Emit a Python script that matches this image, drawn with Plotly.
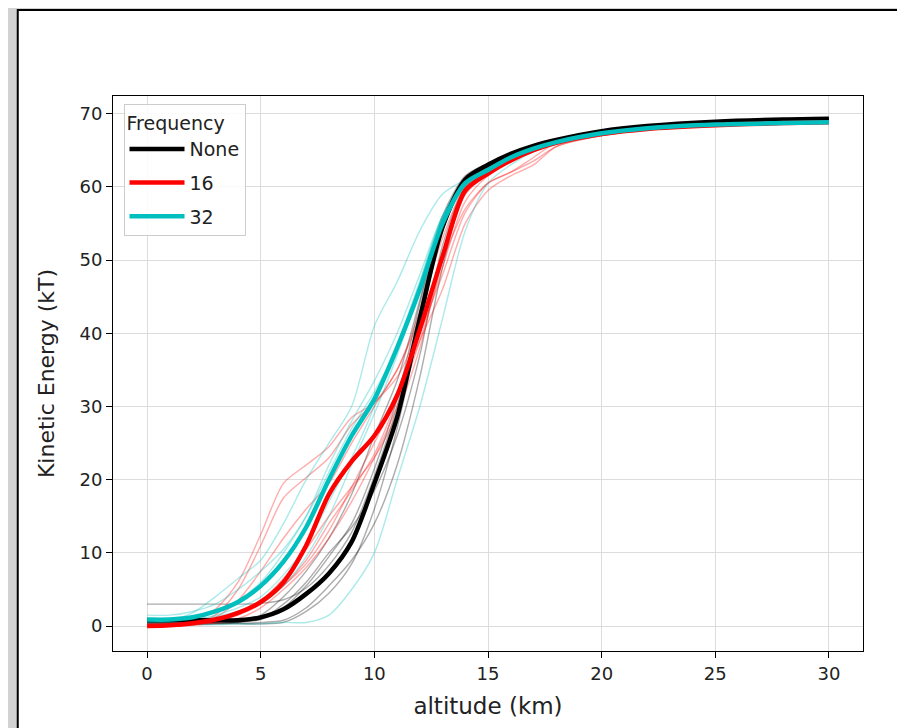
import plotly.graph_objects as go

altitude = [0, 1, 2, 3, 4, 5, 6, 7, 8, 9, 10, 11, 12, 13, 14, 15, 16, 17, 18, 20, 22, 25, 28, 30]

# mean curves (thick)
ke_none = [0.8, 0.8, 0.8, 0.8, 0.8, 1.2, 2.3, 4.4, 7.2, 11.5, 19.5, 28.5, 42, 54.5, 61, 63, 64.5, 65.6, 66.4, 67.6, 68.3, 68.9, 69.2, 69.3]
ke_16 = [0, 0.1, 0.4, 0.9, 1.8, 3.3, 6, 11, 18, 22.5, 26, 31.5, 40.5, 50.5, 59.5, 61.8, 63.6, 65, 66, 67.2, 67.9, 68.4, 68.7, 68.8]
ke_32 = [0.9, 0.9, 1.2, 2, 3.3, 5.5, 8.8, 13.5, 20, 26, 31, 38, 46, 55, 60.5, 62.3, 64, 65.2, 66.1, 67.3, 68, 68.5, 68.7, 68.8]

# individual runs (thin)
none_run1 = [3, 3, 3, 3, 3, 3.1, 3.6, 5.2, 8.3, 12.8, 20.5, 30, 43, 55.5, 61.2, 63.1, 64.6, 65.6, 66.4, 67.6, 68.3, 68.9, 69.2, 69.3]
none_run2 = [0.3, 0.3, 0.3, 0.3, 0.3, 0.3, 0.5, 2, 4.5, 8.5, 16, 27, 41, 54, 60.5, 62.8, 64.4, 65.5, 66.3, 67.5, 68.2, 68.8, 69.1, 69.2]
none_run3 = [0.5, 0.5, 0.5, 0.5, 0.6, 0.9, 2.5, 5.5, 9.5, 14, 21.5, 31, 44, 55.5, 61, 63, 64.5, 65.6, 66.4, 67.6, 68.3, 68.9, 69.2, 69.3]
none_run4 = [0.4, 0.4, 0.4, 0.4, 0.4, 0.5, 0.8, 2.5, 5.5, 9, 14, 22, 34, 49, 59.5, 62.5, 64.2, 65.4, 66.3, 67.5, 68.2, 68.8, 69.1, 69.2]
none_run5 = [0.3, 0.3, 0.4, 0.6, 0.9, 1.5, 4, 7.5, 12, 18, 26, 33.5, 44.5, 56, 61.5, 63.2, 64.6, 65.6, 66.4, 67.6, 68.3, 68.9, 69.2, 69.3]
none_run6 = [0.2, 0.2, 0.2, 0.3, 0.5, 1, 3, 6, 10, 13.5, 18.5, 26, 37, 52, 60, 62.6, 64.3, 65.5, 66.3, 67.5, 68.2, 68.8, 69.1, 69.2]

f16_run1 = [0, 0.1, 0.3, 1.5, 5, 11, 17.5, 20.3, 23, 27.5, 30.5, 34, 41, 51, 59, 61.8, 63.6, 64.9, 66, 67.2, 67.9, 68.4, 68.7, 68.8]
f16_run2 = [0.1, 0.1, 0.6, 2.3, 6, 12.5, 19.5, 22, 24.5, 28.5, 30.5, 35, 43, 53, 60, 62, 63.8, 65, 66, 67.2, 67.9, 68.4, 68.7, 68.8]
f16_run3 = [0, 0, 0.3, 1.2, 3.5, 7.5, 12, 16, 19.5, 25, 30, 35, 42, 50, 57, 60.5, 62, 63.5, 65.5, 67, 67.8, 68.3, 68.6, 68.7]
f16_run4 = [0.2, 0.2, 0.3, 0.6, 1.5, 3, 5.5, 9, 14, 18.5, 23.5, 31, 40, 48, 56.5, 60.5, 62, 64, 66, 67.1, 67.8, 68.3, 68.6, 68.7]
f16_run5 = [0, 0, 0.1, 0.4, 1, 2.5, 5, 8, 12, 17, 23, 30, 39, 49, 58, 61.5, 63.4, 64.8, 65.9, 67.1, 67.8, 68.3, 68.6, 68.7]
f16_run6 = [0.3, 0.3, 0.5, 1, 2, 3.5, 6.5, 10.5, 15, 19, 23, 29, 38, 50, 59, 61.8, 63.6, 64.9, 66, 67.2, 67.9, 68.4, 68.7, 68.8]
f16_run7 = [0, 0, 0.2, 0.6, 1.6, 3, 5.5, 8.5, 13, 19, 25, 31.5, 39, 46, 55, 59.5, 61.5, 63, 65.5, 67, 67.8, 68.3, 68.6, 68.7]

f32_run1 = [0.5, 0.8, 1.8, 4, 6.5, 9, 14, 20, 25, 30, 41, 47, 54, 59, 61, 63, 64.4, 65.4, 66.3, 67.4, 68, 68.5, 68.7, 68.8]
f32_run2 = [0.2, 0.2, 0.2, 0.2, 0.3, 0.3, 0.5, 0.5, 1.5, 5, 10, 20, 30, 42, 54, 60.5, 63, 64.8, 66, 67.2, 67.9, 68.4, 68.7, 68.8]
f32_run3 = [1.5, 1.5, 2, 3, 5, 7.5, 10.5, 15, 21, 27, 32, 38, 47, 56, 60.5, 62.4, 64, 65.2, 66.1, 67.3, 68, 68.5, 68.7, 68.8]
f32_run4 = [0.5, 0.5, 0.8, 1.5, 2.5, 4, 7, 11, 17, 23, 30, 38.5, 47, 56, 61, 62.6, 64.1, 65.3, 66.2, 67.3, 68, 68.5, 68.7, 68.8]
f32_run5 = [0.8, 0.8, 0.9, 1.3, 2, 3, 5.5, 9.5, 15, 22, 29, 37, 46, 55, 60.5, 62.3, 64, 65.2, 66.1, 67.3, 68, 68.5, 68.7, 68.8]
f32_run6 = [0.5, 0.6, 1, 2, 3.5, 6, 10, 15, 22, 28, 33.5, 40, 48, 56, 60, 62.2, 63.9, 65.1, 66.1, 67.3, 68, 68.5, 68.7, 68.8]

labels = ['None', '16', '32']
colors = ['black', 'red', '#00bfbf']
means = [ke_none, ke_16, ke_32]
runs = [
    [none_run1, none_run2, none_run3, none_run4, none_run5, none_run6],
    [f16_run1, f16_run2, f16_run3, f16_run4, f16_run5, f16_run6, f16_run7],
    [f32_run1, f32_run2, f32_run3, f32_run4, f32_run5, f32_run6],
]

fig = go.Figure()

for color, group in zip(colors, runs):
    for run in group:
        fig.add_trace(go.Scatter(x=altitude, y=run, mode='lines', showlegend=False,
                                 line=dict(color=color, width=1.4, shape='spline', smoothing=0.8),
                                 opacity=0.32, hoverinfo='skip'))

for label, color, ke in zip(labels, colors, means):
    fig.add_trace(go.Scatter(x=altitude, y=ke, mode='lines', name=label, legendgroup=label,
                             line=dict(color=color, width=4.5, shape='spline', smoothing=0.8)))

axis_style = dict(showline=True, linecolor='black', linewidth=1, mirror=True,
                  ticks='outside', ticklen=6, tickcolor='black',
                  showgrid=True, gridcolor='#dcdcdc', gridwidth=1, zeroline=False,
                  tickfont=dict(size=18, color='#222'))

# page body adds ~7px margin, so the figure is a bit smaller than the window
fig.update_layout(
    width=898,
    height=721,
    margin=dict(l=105, r=43, t=88, b=78),
    paper_bgcolor='#d2d2d2',
    plot_bgcolor='white',
    font=dict(family='DejaVu Sans', color='#222'),
    xaxis=dict(range=[-1.5, 31.5], tickvals=[0, 5, 10, 15, 20, 25, 30],
               title=dict(text='altitude (km)', font=dict(size=23), standoff=15), **axis_style),
    yaxis=dict(range=[-3.4, 72.4], tickvals=[0, 10, 20, 30, 40, 50, 60, 70],
               title=dict(text='Kinetic Energy (kT)', font=dict(size=22), standoff=18), **axis_style),
    legend=dict(x=0.014, y=0.985, xanchor='left', yanchor='top',
                title=dict(text='Frequency', side='top', font=dict(size=19)),
                font=dict(size=19), bgcolor='rgba(255,255,255,0.85)',
                bordercolor='#cccccc', borderwidth=1, tracegroupgap=6, itemwidth=55),
    shapes=[dict(type='rect', xref='paper', yref='paper', x0=-0.127, x1=1.0507, y0=-0.25, y1=1.155,
                 fillcolor='white', line=dict(color='black', width=2), layer='below')],
)

fig.write_html("out.html")
